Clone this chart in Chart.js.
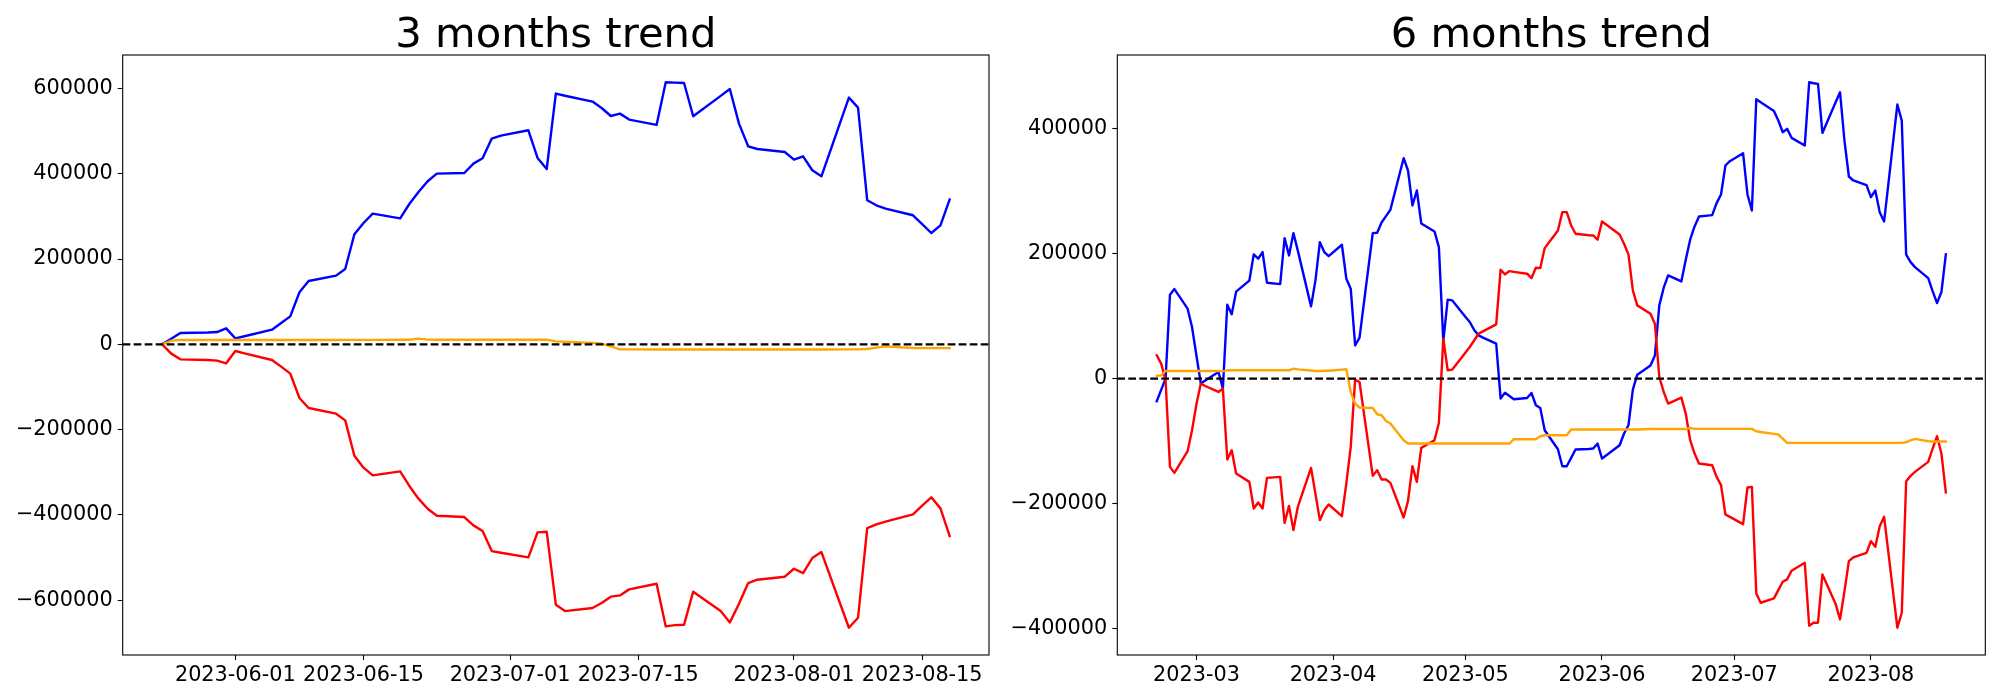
<!DOCTYPE html>
<html>
<head>
<meta charset="utf-8">
<script src="https://cdn.jsdelivr.net/npm/chart.js@4.4.0/dist/chart.umd.min.js"></script>
<style>
body { margin: 0; background: #fff; }
#wrap { position: relative; width: 2000px; height: 700px; }
canvas { position: absolute; top: 0; }
</style>
</head>
<body>
<div id="wrap">
<canvas id="chart3m" width="1000" height="700" style="left:0"></canvas>
<canvas id="chart6m" width="1000" height="700" style="left:1000px"></canvas>
</div>
<script>
// values in thousands
const dates3m = [
  '2023-05-24','2023-05-25','2023-05-26',
  '2023-05-29','2023-05-30','2023-05-31','2023-06-01','2023-06-02',
  '2023-06-05','2023-06-06','2023-06-07','2023-06-08','2023-06-09',
  '2023-06-12','2023-06-13','2023-06-14','2023-06-15','2023-06-16',
  '2023-06-19','2023-06-20','2023-06-21','2023-06-22','2023-06-23',
  '2023-06-26','2023-06-27','2023-06-28','2023-06-29','2023-06-30',
  '2023-07-03','2023-07-04','2023-07-05','2023-07-06','2023-07-07',
  '2023-07-10','2023-07-11','2023-07-12','2023-07-13','2023-07-14',
  '2023-07-17','2023-07-18','2023-07-19','2023-07-20','2023-07-21',
  '2023-07-24','2023-07-25','2023-07-26','2023-07-27','2023-07-28',
  '2023-07-31','2023-08-01','2023-08-02','2023-08-03','2023-08-04',
  '2023-08-07','2023-08-08','2023-08-09','2023-08-10','2023-08-11',
  '2023-08-14','2023-08-15','2023-08-16','2023-08-17','2023-08-18'
];
const blue3m = [
  0, 13, 26.5,
  27.7, 28.8, 37.5, 14, 19,
  34.4, 50, 65.6, 122, 148.4,
  161, 176.6, 258, 284.5, 306.4,
  295.4, 329, 357, 382.2, 400.2,
  401.6, 423.6, 436.1, 482.3, 489.3,
  501.8, 436.8, 411, 587.8, 582.7,
  569, 554, 535.3, 540.8, 526.8,
  514.3, 614.3, 613.5, 612.7, 534.6,
  582.4, 598.6, 517.4, 464.2, 457.9,
  450.9, 433, 440.8, 408, 393.9,
  578.4, 555, 337.6, 325.9, 318.1,
  302.5, 282, 261, 279, 339.3
];
const red3m = [
  0, -21.8, -35.2,
  -36.8, -38.3, -44.5, -15.6, -21,
  -36.8, -52.3, -68.7, -125.9, -149.3,
  -162.5, -178.2, -261, -289.1, -307.2,
  -297.8, -332, -361.8, -385.3, -401.7,
  -404.9, -424.4, -437.8, -484.6, -488.5,
  -499.4, -440.8, -439.2, -610.3, -625.3,
  -618.2, -606.5, -591.5, -588.5, -574.4,
  -561.1, -661.2, -658.1, -657.2, -579.8,
  -625.3, -651.8, -608, -559.7, -551.7,
  -544.7, -526, -536.2, -501.1, -487,
  -664.3, -640.8, -430.7, -422, -415.8,
  -398.6, -378, -358.7, -384.5, -449.5
];
const orange3m = [
  0, 8.6, 10.2,
  10.2, 10.2, 10.2, 10.2, 10.2,
  10.2, 10.2, 10.2, 10.2, 10.2,
  10.2, 10.4, 10.4, 10.4, 10.4,
  10.6, 10.8, 13.3, 11, 10.9,
  10.9, 10.9, 10.9, 10.9, 10.9,
  10.9, 10.9, 10.9, 7, 6,
  3.5, 1.6, -5, -11.7, -11.9,
  -12, -12, -12, -12, -12,
  -12, -12, -12, -12, -12,
  -12, -12, -12, -12, -12,
  -11.9, -11.7, -11, -7.8, -4.7,
  -8.6, -8.8, -9, -9, -9
];
const xTicks3m = ['2023-06-01','2023-06-15','2023-07-01','2023-07-15','2023-08-01','2023-08-15'];
const yTicks3m = [-600000, -400000, -200000, 0, 200000, 400000, 600000];

const dates6m = [
  '2023-02-20','2023-02-21','2023-02-22','2023-02-23','2023-02-24',
  '2023-02-27','2023-02-28','2023-03-01','2023-03-02','2023-03-03',
  '2023-03-06','2023-03-07','2023-03-08','2023-03-09','2023-03-10',
  '2023-03-13','2023-03-14','2023-03-15','2023-03-16','2023-03-17',
  '2023-03-20','2023-03-21','2023-03-22','2023-03-23','2023-03-24',
  '2023-03-27','2023-03-28','2023-03-29','2023-03-30','2023-03-31',
  '2023-04-03','2023-04-04','2023-04-05','2023-04-06','2023-04-07',
  '2023-04-10','2023-04-11','2023-04-12','2023-04-13','2023-04-14',
  '2023-04-17','2023-04-18','2023-04-19','2023-04-20','2023-04-21',
  '2023-04-24','2023-04-25','2023-04-26','2023-04-27','2023-04-28',
  '2023-05-01','2023-05-02','2023-05-03','2023-05-04','2023-05-05',
  '2023-05-08','2023-05-09','2023-05-10','2023-05-11','2023-05-12',
  '2023-05-15','2023-05-16','2023-05-17','2023-05-18','2023-05-19',
  '2023-05-22','2023-05-23','2023-05-24','2023-05-25','2023-05-26',
  '2023-05-29','2023-05-30','2023-05-31','2023-06-01','2023-06-02',
  '2023-06-05','2023-06-06','2023-06-07','2023-06-08','2023-06-09',
  '2023-06-12','2023-06-13','2023-06-14','2023-06-15','2023-06-16',
  '2023-06-19','2023-06-20','2023-06-21','2023-06-22','2023-06-23',
  '2023-06-26','2023-06-27','2023-06-28','2023-06-29','2023-06-30',
  '2023-07-03','2023-07-04','2023-07-05','2023-07-06','2023-07-07',
  '2023-07-10','2023-07-11','2023-07-12','2023-07-13','2023-07-14',
  '2023-07-17','2023-07-18','2023-07-19','2023-07-20','2023-07-21',
  '2023-07-24','2023-07-25','2023-07-26','2023-07-27','2023-07-28',
  '2023-07-31','2023-08-01','2023-08-02','2023-08-03','2023-08-04',
  '2023-08-07','2023-08-08','2023-08-09','2023-08-10','2023-08-11',
  '2023-08-14','2023-08-15','2023-08-16','2023-08-17','2023-08-18'
];
const blue6m = [
  -36.3, -18, 0, 134.4, 143.4,
  112, 82.6, 37, -8, -3,
  10.6, -16, 118.4, 102.9, 139.2,
  156.8, 198.9, 192, 202.6, 153.6,
  151.4, 225, 197.3, 233, 205,
  115.7, 157.3, 218.6, 202.6, 196.2,
  214.4, 160, 144, 53.3, 65.6,
  233, 233.5, 250.1, 260.2, 270.4,
  353, 333.3, 277.3, 301.3, 248.5,
  235.7, 210.6, 60, 126.4, 125.3,
  99, 90.6, 78, 69.3, 65.6,
  56, -32, -22.5, -27.8, -33.1,
  -31, -23, -42.7, -47, -82.7,
  -113.1, -140.3, -140.3, -127, -113.6,
  -112.8, -112, -104, -128, -122.7,
  -106.7, -88, -74.7, -17.6, 6.3,
  21, 37, 117.3, 145.6, 165.3,
  155.7, 190.4, 222.4, 243.7, 259.7,
  261.8, 281, 294.9, 341.3, 348.2,
  361, 294.9, 269.3, 447.5, 442.6,
  428.7, 413.3, 394.6, 400, 385.6,
  373.3, 474.6, 473, 472, 393.5,
  442.6, 458.6, 381.3, 323.7, 317.3,
  309.8, 290.6, 301.3, 266.6, 251.7,
  438.9, 413.3, 198.4, 186.6, 178.6,
  161, 140, 121, 138.6, 198.9
];
const red6m = [
  37.3, 24, -2.7, -141.4, -151,
  -116.3, -82.7, -41, -8, -11.8,
  -21.4, -16, -129.6, -114.7, -152,
  -165.4, -208, -198.4, -208, -159,
  -157.4, -231, -203.8, -242.7, -205.4,
  -143, -184.6, -226.7, -210.7, -201.6,
  -220.3, -168, -109.4, -1.6, -5.4,
  -155.8, -146.7, -161.6, -161.6, -167,
  -222.4, -195.8, -140.3, -165.4, -111,
  -98.7, -71, 64, 13.3, 14.3,
  41.5, 50.6, 61, 72, 75.7,
  86.9, 174.4, 166.9, 172.2, 171,
  168, 161, 177.6, 177, 209,
  237.3, 266.6, 266.6, 245.3, 232,
  229.7, 229.3, 222.4, 251.7, 246.4,
  230.9, 216, 198.9, 141.3, 117.3,
  104, 88, 2.6, -21.4, -40,
  -30.4, -56, -98.7, -120, -136,
  -138.7, -157.4, -170.7, -217.6, -221.4,
  -233.1, -174.4, -173.4, -344, -359,
  -352, -338.7, -325.4, -321.6, -307.8,
  -295, -395.8, -391, -391, -313.6,
  -361.1, -385.6, -340.8, -292.3, -286.4,
  -279, -260.3, -269.4, -236.3, -221.4,
  -399, -375, -164.3, -155.8, -149.4,
  -133.4, -112, -92.3, -120, -182.4
];
const orange6m = [
  4.2, 5.3, 12.2, 12.2, 12.2,
  12.2, 12.2, 12.2, 12.2, 12.2,
  12.2, 11.5, 13.3, 13.3, 13.3,
  13.3, 13.3, 13.3, 13.3, 13.3,
  13.3, 13.3, 13.3, 16, 14.8,
  13, 12.2, 12.2, 12.5, 12.5,
  14.3, 14.9, -21.4, -40, -46.4,
  -47, -57.1, -58.7, -67.8, -72,
  -98.7, -104, -104, -104, -104,
  -104, -104, -104, -104, -104,
  -104, -104, -104, -104, -104,
  -104, -104, -104, -104, -97.1,
  -97.1, -97.1, -97.1, -92.3, -90.7,
  -90.7, -90.7, -90.7, -81.6, -81.6,
  -81.6, -81.6, -81.6, -81.6, -81.6,
  -81.6, -81.6, -81.6, -81.6, -81.6,
  -80.8, -80.8, -80.8, -80.8, -80.8,
  -80.8, -80.8, -78.8, -80.5, -80.5,
  -80.5, -80.5, -80.5, -80.5, -80.5,
  -80.5, -80.5, -80.5, -84.3, -85.5,
  -88.5, -89.6, -96, -103, -103,
  -103, -103, -103, -103, -103,
  -103, -103, -103, -103, -103,
  -103, -103, -103, -103, -103,
  -103, -103, -101.9, -99, -96.6,
  -100.3, -100.8, -100.8, -100.8, -100.8
];
const xTicks6m = ['2023-03','2023-04','2023-05','2023-06','2023-07','2023-08'];
const yTicks6m = [-400000, -200000, 0, 200000, 400000];

const FONT = 'DejaVu Sans';

function toDay(s) {
  const d = parseInt(s.slice(8, 10)) || 1;
  return Date.UTC(+s.slice(0, 4), +s.slice(5, 7) - 1, d) / 86400000;
}

function pts(dates, vals) {
  return dates.map((d, i) => ({ x: toDay(d), y: vals[i] * 1000 }));
}

// matplotlib style 5% margins
function withMargin(lo, hi) {
  const m = (hi - lo) * 0.05;
  return [lo - m, hi + m];
}

const frame = {
  id: 'frame',
  afterDraw(chart) {
    const { ctx, chartArea: a } = chart;
    ctx.save();
    ctx.strokeStyle = '#000';
    ctx.lineWidth = 1.1;
    ctx.strokeRect(a.left, a.top, a.right - a.left, a.bottom - a.top);
    ctx.restore();
  }
};

const zeroLine = {
  id: 'zeroLine',
  afterDatasetsDraw(chart) {
    const { ctx, chartArea: a, scales: { y } } = chart;
    const py = y.getPixelForValue(0);
    ctx.save();
    ctx.beginPath();
    ctx.setLineDash([7.7, 3.3]);
    ctx.lineWidth = 2.1;
    ctx.strokeStyle = '#000';
    ctx.moveTo(a.left, py);
    ctx.lineTo(a.right, py);
    ctx.stroke();
    ctx.restore();
  }
};

// title centred over the plot area, like matplotlib's ax.set_title
const axTitle = {
  id: 'axTitle',
  afterDraw(chart, args, opts) {
    const { ctx, chartArea: a } = chart;
    ctx.save();
    ctx.font = '41.7px "' + FONT + '"';
    ctx.fillStyle = '#000';
    ctx.textAlign = 'center';
    ctx.textBaseline = 'alphabetic';
    ctx.fillText(opts.text, (a.left + a.right) / 2, a.top - 8.3);
    ctx.restore();
  }
};

function line(data, color, order) {
  return {
    data: data, borderColor: color, borderWidth: 2.4, pointRadius: 0,
    tension: 0, fill: false, order: order,
    borderJoinStyle: 'round', borderCapStyle: 'square'
  };
}

function makeChart(id, title, dates, blue, red, orange, xTicks, yTicks, yWidth, padRight) {
  const all = blue.concat(red, orange).map(v => v * 1000);
  const [ymin, ymax] = withMargin(Math.min(...all), Math.max(...all));
  const [xmin, xmax] = withMargin(toDay(dates[0]), toDay(dates[dates.length - 1]));
  const tickFont = { family: FONT, size: 20.8 };
  const tickGrid = () => ({
    display: true, drawOnChartArea: false, drawTicks: true,
    tickLength: 5, tickWidth: 1.1, tickColor: '#000', color: '#000'
  });

  return new Chart(document.getElementById(id), {
    type: 'line',
    data: {
      datasets: [
        line(pts(dates, blue), '#0000ff', 3),
        line(pts(dates, red), '#ff0000', 2),
        line(pts(dates, orange), '#ffa500', 1)
      ]
    },
    options: {
      responsive: false,
      animation: false,
      devicePixelRatio: 1,
      layout: { padding: { left: 0, right: padRight, top: 55, bottom: 0 } },
      plugins: {
        legend: { display: false },
        tooltip: { enabled: false },
        title: { display: false },
        axTitle: { text: title }
      },
      scales: {
        x: {
          type: 'linear', min: xmin, max: xmax,
          afterFit: s => { s.height = 45; },
          afterBuildTicks: s => { s.ticks = xTicks.map(t => ({ value: toDay(t) })); },
          grid: tickGrid(),
          border: { display: false },
          ticks: {
            autoSkip: false, maxRotation: 0, minRotation: 0, padding: 3.5,
            color: '#000', font: tickFont,
            callback: (v, i) => xTicks[i]
          }
        },
        y: {
          type: 'linear', min: ymin, max: ymax,
          afterFit: s => { s.width = yWidth; },
          afterBuildTicks: s => { s.ticks = yTicks.map(v => ({ value: v })); },
          grid: tickGrid(),
          border: { display: false },
          ticks: {
            autoSkip: false, padding: 5, color: '#000', font: tickFont,
            callback: (v, i) => (yTicks[i] < 0 ? '\u2212' + (-yTicks[i]) : String(yTicks[i]))
          }
        }
      }
    },
    plugins: [zeroLine, frame, axTitle]
  });
}

makeChart('chart3m', '3 months trend', dates3m, blue3m, red3m, orange3m, xTicks3m, yTicks3m, 122.7, 11);
makeChart('chart6m', '6 months trend', dates6m, blue6m, red6m, orange6m, xTicks6m, yTicks6m, 117.3, 14.7);
</script>
</body>
</html>
